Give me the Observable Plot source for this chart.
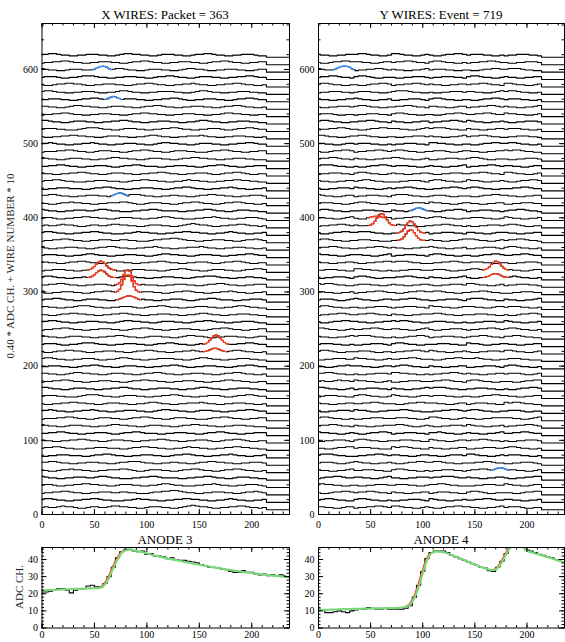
<!DOCTYPE html>
<html><head><meta charset="utf-8">
<script src="https://cdn.jsdelivr.net/npm/d3@7"></script>
<script src="https://cdn.jsdelivr.net/npm/@observablehq/plot@0.6"></script>
<style>
body{margin:0;background:#fff;overflow:hidden}
#root{position:relative;width:565px;height:642px;overflow:hidden;font-family:"Liberation Serif",serif;color:#000}
.t{position:absolute;font-size:13px;line-height:1;white-space:nowrap;transform:translateX(-50%)}
.yl{position:absolute;font-size:11px;line-height:1;white-space:nowrap;transform:translate(-50%,-50%) rotate(-90deg);color:#222}
.p{position:absolute}
</style></head><body><div id="root"></div>
<script>
// ---------- text ----------
const titleX = "X WIRES: Packet = 363";
const titleY = "Y WIRES: Event = 719";
const titleA3 = "ANODE 3";
const titleA4 = "ANODE 4";
const wireAxisLabel = "0.40 * ADC CH. + WIRE NUMBER * 10";
const anodeAxisLabel = "ADC CH.";

// ---------- ticks ----------
const xTicks = [0, 50, 100, 150, 200];
const wireYTicks = [0, 100, 200, 300, 400, 500, 600];
const anodeYTicks = [0, 10, 20, 30, 40];

// ---------- wire plot constants ----------
const PEDESTAL = 16;        // ADC
const ADC_SCALE = 0.40;
const WIRE_SPACING = 10;
const SAMPLE_STEP = 4;
const HIT_STEP = 2;
const TRACE_END = 216;
const X_MAX = 236;
const ADC_PER_DIGIT = 2.5;

// noise per wire, one digit per sample (ADC above pedestal = digit * ADC_PER_DIGIT)
const xWireNoise = [
"343345443 223443345 544332234 443322345 654432233 445543323",
"455433223 344554332 223345443 322334455 443322334 543322334",
"233445543 322334443 344332223 445566543 322334443 322344543",
"344322334 455443322 344433223 345543322 233445433 223344432",
"543322334 443345543 322233445 543333223 344554332 234443322",
"332234454 433223344 455432234 443322344 554332234 455433223",
"445543322 334443322 344555433 223344332 234455443 322334443",
"223344433 322344554 332233444 332234455 433223344 543322334",
"344554332 223344433 322344554 433223345 443322334 455443322",
"433223344 554332234 443322334 455433223 344432234 455432233",
"334455433 223344432 234455433 322334443 322344554 332233444",
"543322344 433223345 544332234 443322344 554433223 344433222",
"233344554 332234443 322344554 332234443 322234455 433223344",
"445433223 344543322 334443322 345544332 234443322 334455433",
"322334455 443322344 433223345 543322334 445433223 344433223",
"344433222 345554332 234443322 334455433 223344432 234455433",
"554332234 443322334 455433223 344433223 345543322 334443322",
"233445543 322334443 322344554 433223344 433223345 544332233",
"443322345 544332234 443322344 554332233 444332234 455433223",
"334443322 344554332 234443322 334455432 233444332 234455433",
"455433223 344432233 455433223 344443322 345543322 334443322",
"322344554 432233444 332234455 433223344 543322334 455433223",
"344432233 455543322 334443322 344554332 234443322 334455433",
"543322344 433223344 554332234 443322345 544322334 443322344",
"233445543 322334443 322344554 332233444 332234455 433223344",
"445543322 334443322 345544332 234443322 344554332 233444322",
"332234455 443322334 455433223 344433223 345543322 334443322",
"443322334 555433223 344432234 455433223 344433223 345543322",
"344554332 234443322 334455433 223344432 234455433 322334443",
"522334443 322344554 332233444 332234455 433223344 543322334",
"334455433 223344432 234455433 322334443 322344554 332233444",
"455433223 344433223 345543322 334443322 344555433 223344332",
"233444332 234455433 223344433 322344554 332234443 322344554",
"443322344 554332234 443322334 455433223 344432234 455432233",
"344433223 345543322 334443322 345544332 234443322 334455433",
"532233444 332234455 433223344 543322334 445433223 344433223",
"233445543 322334443 344332223 445566543 322334443 322344543",
"455433223 344554332 223345443 322334455 443322334 543322334",
"343345443 223443345 544332234 443322345 654432233 445543323",
"344322334 455443322 344433223 345543322 233445433 223344432",
"543322334 443345543 322233445 543333223 344554332 234443322",
"332234454 433223344 455432234 443322344 554332234 455433223",
"445543322 334443322 344555433 223344332 234455443 322334443",
"223344433 322344554 332233444 332234455 433223344 543322334",
"344554332 223344433 322344554 433223345 443322334 455443322",
"433223344 554332234 443322334 455433223 344432234 455432233",
"334455433 223344432 234455433 322334443 322344554 332233444",
"543322344 433223345 544332234 443322344 554433223 344433222",
"233344554 332234443 322344554 332234443 322234455 433223344",
"445433223 344543322 334443322 345544332 234443322 334455433",
"322334455 443322344 433223345 543322334 445433223 344433223",
"344433222 345554332 234443322 334455433 223344432 234455433",
"554332234 443322334 455433223 344433223 345543322 334443322",
"233445543 322334443 322344554 433223344 433223345 544332233",
"443322345 544332234 443322344 554332233 444332234 455433223",
"334443322 344554332 234443322 334455432 233444332 234455433",
"455433223 344432233 455433223 344443322 345543322 334443322",
"322344554 432233444 332234455 433223344 543322334 455433223",
"344432233 455543322 334443322 344554332 234443322 334455433",
"543322344 433223344 554332234 443322345 544322334 443322344",
"233445543 322334443 322344554 332233444 332234455 433223344",
"445543322 334443322 345544332 234443322 344554332 233444322"
];

const yWireNoise = [
"443322344 233445543 554332234 322344554 433223345 344432233",
"345543322 455433223 223344432 543322334 334455433 443322334",
"322344554 344554332 433223344 234443322 455432233 332234455",
"554433223 322334443 344433223 445543322 223344433 543322344",
"234455433 443322345 332233444 344555433 433223344 322334455",
"433223345 334443322 455433223 233444332 344554332 544332234",
"344432234 543322334 322344554 455433223 334455433 223344432",
"455543322 233445543 443322344 332234443 554332234 344433223",
"332234455 344433222 545543322 433223344 223344433 455433223",
"223344432 455433223 334443322 543322344 344554332 322334443",
"544332234 322344554 233444332 445433223 433223345 334455433",
"344554332 433223344 455432234 322334443 543322334 233445543",
"455433223 223344433 344433223 554332234 332233444 443322345",
"322334443 544322334 445543322 233445543 455433223 344432233",
"433223344 334455433 322344554 443322344 234443322 545543322",
"234443322 455433223 543322344 344433223 322344554 433223344",
"554332234 233444332 433223345 455543322 334443322 322344554",
"343345443 544332234 223344433 344554332 455433223 332234455",
"445543322 322334443 554433223 233445543 433223344 344432234",
"332234454 443322344 345543322 433223344 223344432 455433223",
"223344433 544332234 334455433 322344554 445433223 344433222",
"455432233 344432233 233445543 543322334 322334443 554332234",
"344433223 223344432 455433223 334443322 544322334 433223344",
"433223345 455543322 322344554 233444332 344554332 445543322",
"554332234 334455433 443322345 322334443 233445543 455433223",
"322344554 433223344 545543322 344433223 223344433 543322334",
"233445543 344554332 433223344 455433223 334443322 322344554",
"455433223 322334443 233444332 544332234 443322344 344433223",
"344432234 543322344 334455433 223344432 455543322 433223345",
"443322334 233445543 322344554 455433223 344554332 223344433",
"545543322 344433223 433223344 322334443 554332234 233444332",
"223344432 455432233 344554332 433223345 322344554 445433223",
"334443322 554433223 223344433 344432233 455433223 543322344",
"433223344 322334455 455543322 233445543 344433223 322334443",
"544332234 443322345 233444332 455433223 322344554 334455433",
"344554332 233445543 433223344 543322334 223344432 455433223",
"455433223 344433222 322334443 433223345 554332234 344554332",
"322344554 455543322 344432234 233444332 443322344 433223344",
"233445543 433223344 554433223 344554332 322334443 455432233",
"443322345 322344554 233445543 455433223 344433223 543322334",
"455433223 334443322 433223345 322344554 233444332 344554332",
"344433223 455433223 322334443 544332234 433223344 223344433",
"543322344 233444332 455543322 344432233 322344554 433223344",
"322334443 544332234 344554332 233445543 455433223 334455433",
"433223344 345543322 223344432 455433223 544322334 322344554",
"233444332 455433223 433223344 322334443 344554332 554332234",
"455543322 322344554 344433223 433223345 233445543 443322344",
"344554332 433223344 554332234 223344433 455432233 322334443",
"322344554 233445543 455433223 344432234 433223344 545543322",
"443322344 344433223 233444332 554433223 322344554 455433223",
"554332234 455433223 322334443 433223345 344554332 233444332",
"233445543 322344554 443322345 455543322 433223344 344433223",
"455433223 344554332 433223344 233445543 543322334 322334443",
"344432233 233444332 455433223 322344554 334455433 544332234",
"322334443 455433223 344554332 443322344 233445543 433223345",
"433223344 543322334 223344432 455433223 322344554 344433223",
"233444332 344433223 455543322 322334443 443322345 455433223",
"455433223 322344554 233445543 433223344 344554332 554332234",
"344554332 455432233 322334443 233444332 455433223 433223344",
"543322344 233445543 433223345 344433223 322344554 455543322",
"322344554 443322344 344554332 455433223 233445543 322334443",
"433223344 455433223 554332234 322344554 344433223 233444332"
];

// hits: ADC above pedestal sampled every HIT_STEP from x0
const xWireHits = [
  {wire: 59, x0: 48,  color: "blue", adc: [8, 10, 13, 16, 19, 20, 19, 16, 12, 9]},
  {wire: 55, x0: 60,  color: "blue", adc: [8, 10, 13, 16, 18, 17, 14, 11, 8]},
  {wire: 42, x0: 66,  color: "blue", adc: [8, 10, 13, 16, 18, 17, 14, 11, 8]},
  {wire: 32, x0: 44,  color: "red",  adc: [8, 10, 14, 20, 28, 35, 38, 36, 30, 22, 15, 11, 9, 8]},
  {wire: 31, x0: 44,  color: "red",  adc: [8, 9, 12, 17, 24, 30, 33, 31, 26, 19, 13, 10, 8, 8]},
  {wire: 30, x0: 70,  color: "red",  adc: [8, 10, 15, 27, 43, 56, 58, 53, 37, 21, 12, 9, 8]},
  {wire: 29, x0: 70,  color: "red",  adc: [8, 11, 18, 33, 51, 63, 66, 61, 45, 27, 15, 10, 8]},
  {wire: 28, x0: 72,  color: "red",  adc: [8, 10, 13, 16, 19, 21, 21, 19, 16, 13, 10, 8]},
  {wire: 22, x0: 154, color: "red",  adc: [8, 10, 14, 21, 29, 36, 39, 36, 29, 21, 14, 10, 8]},
  {wire: 21, x0: 154, color: "red",  adc: [8, 9, 11, 14, 17, 19, 19, 17, 14, 11, 9, 8]}
];
const yWireHits = [
  {wire: 59, x0: 14,  color: "blue", adc: [8, 10, 13, 16, 19, 20, 20, 19, 16, 12, 9]},
  {wire: 40, x0: 88,  color: "blue", adc: [8, 10, 13, 16, 18, 17, 14, 11, 8]},
  {wire: 39, x0: 48,  color: "red",  adc: [9, 11, 13, 14, 14, 13, 12, 10, 9]},
  {wire: 38, x0: 48,  color: "red",  adc: [8, 10, 14, 22, 33, 43, 48, 46, 38, 27, 17, 11, 9, 8]},
  {wire: 37, x0: 76,  color: "red",  adc: [8, 10, 14, 22, 33, 43, 48, 46, 38, 27, 17, 11, 9, 8]},
  {wire: 36, x0: 76,  color: "red",  adc: [8, 10, 13, 20, 30, 39, 44, 42, 34, 24, 15, 10, 8, 8]},
  {wire: 32, x0: 158, color: "red",  adc: [8, 10, 13, 19, 27, 34, 38, 36, 29, 21, 14, 10, 8]},
  {wire: 31, x0: 158, color: "red",  adc: [8, 9, 11, 14, 18, 20, 21, 20, 17, 13, 10, 9, 8]},
  {wire: 5,  x0: 166, color: "blue", adc: [8, 10, 13, 15, 17, 16, 14, 11, 8]}
];

// ---------- anode data (x = 0,4,8,...) ----------
const anodeStep = 4;
const anode3Fit = [22.0,22.1,22.2,22.3,22.4,22.5,22.6,22.7,22.8,22.9,23.0,23.1,23.2,23.3,23.6,25.5,29.5,35.0,40.0,43.8,45.4,45.6,45.3,44.8,44.2,43.5,42.9,42.3,41.7,41.1,40.6,40.1,39.6,39.1,38.6,38.1,37.6,37.2,36.7,36.3,35.8,35.4,35.0,34.6,34.2,33.8,33.4,33.1,32.7,32.4,32.1,31.8,31.5,31.2,30.9,30.6,30.4,30.1,29.9,29.7];
const anode3Trace = [21,21,21.5,22,23,23,22,20.5,22,22.5,23,24.5,25,24,24,26,30,35.5,41,44.5,46,46,45,44.5,45,43,43.5,42,42,41.5,40.5,41,40,39.5,39.5,39,38.5,38,37,36.5,35.5,35.5,35,34.5,34,33,32.5,32.5,33.5,32.5,32.5,31.5,31,31.5,30.5,31,30.5,31,30.5];
const anode4Fit = [10.4,10.5,10.6,10.7,10.8,10.9,11.0,11.0,11.1,11.2,11.2,11.3,11.3,11.4,11.4,11.5,11.5,11.6,11.6,11.7,11.9,12.4,13.8,17.5,24.0,32.0,39.5,43.5,44.6,44.6,44.2,43.5,42.6,41.6,40.6,39.6,38.6,37.6,36.6,35.6,34.7,34.0,33.8,35.0,38.5,43.0,46.8,48.5,48.8,47.5,45.0,44.2,43.5,42.8,42.1,41.4,40.6,39.8,39.0,38.2];
const anode4Trace = [11,10.5,9,9,9.5,10,9.5,9,10,10.5,11,11,12,11.5,11,11,11.5,11,11,11,11,11.5,13,18,25,33,40.5,44,45,45,45,44,42.5,41.5,40.5,39.5,38.5,37.5,36.5,35.5,35,33.5,33,35.5,39,43.5,47.5,49,49,48,45.5,45,44,43,42.5,41.5,41,40,39.5];
const anode3RedRanges = [[56, 80]];
const anode4RedRanges = [[84, 108], [168, 188]];

// ---------- build ----------
const RED = "#ff3d1f", BLUE = "#3d8ff0", GREEN = "#7ad87a";

function buildWires(noise, hits) {
  const rows = [], hitRows = [];
  noise.forEach((s, w) => {
    const digits = s.replace(/\s/g, "");
    const wh = hits.filter(h => h.wire === w);
    const inHit = x => wh.some(h => x >= h.x0 && x <= h.x0 + (h.adc.length - 1) * HIT_STEP);
    const pts = [];
    for (let i = 0; i < digits.length; i++) {
      const x = i * SAMPLE_STEP;
      if (x >= TRACE_END) break;
      if (!inHit(x)) pts.push({x, adc: +digits[i] * ADC_PER_DIGIT});
    }
    wh.forEach((h, k) => h.adc.forEach((a, j) => {
      pts.push({x: h.x0 + j * HIT_STEP, adc: a});
      hitRows.push({key: w + "-" + k, color: h.color, x: h.x0 + j * HIT_STEP,
                    y: ADC_SCALE * (PEDESTAL + a) + WIRE_SPACING * w});
    }));
    pts.sort((a, b) => a.x - b.x);
    pts.push({x: TRACE_END, adc: 0}, {x: X_MAX, adc: 0});
    pts.forEach(p => rows.push({wire: w, x: p.x, y: ADC_SCALE * (PEDESTAL + p.adc) + WIRE_SPACING * w}));
  });
  return {rows, hitRows};
}

function tickMarks(xMaj, xMin, yMaj, yMin, iw, ih) {
  const M = 5, m = 2.5;
  return [
    Plot.tickX(xMaj, {x: d => d, insetTop: ih - M, stroke: "black"}),
    Plot.tickX(xMaj, {x: d => d, insetBottom: ih - M, stroke: "black"}),
    Plot.tickX(xMin, {x: d => d, insetTop: ih - m, stroke: "black"}),
    Plot.tickX(xMin, {x: d => d, insetBottom: ih - m, stroke: "black"}),
    Plot.tickY(yMaj, {y: d => d, insetRight: iw - M, stroke: "black"}),
    Plot.tickY(yMaj, {y: d => d, insetLeft: iw - M, stroke: "black"}),
    Plot.tickY(yMin, {y: d => d, insetRight: iw - m, stroke: "black"}),
    Plot.tickY(yMin, {y: d => d, insetLeft: iw - m, stroke: "black"})
  ];
}

const root = document.getElementById("root");
function put(node, left, top) { node.classList.add("p"); node.style.left = left + "px"; node.style.top = top + "px"; root.appendChild(node); }
function text(cls, str, left, top) { const d = document.createElement("div"); d.className = cls; d.textContent = str; d.style.left = left + "px"; d.style.top = top + "px"; root.appendChild(d); }

const style = {fontFamily: "'Liberation Serif', serif", fontSize: "10px", background: "transparent", overflow: "visible", color: "black"};
const xMinor = d3.range(0, X_MAX + 1, 10);

function wirePlot(noise, hits, ml, mr, W) {
  const H = 535, mt = 23, mb = 21;
  const {rows, hitRows} = buildWires(noise, hits);
  const yMinor = d3.range(0, 661, 20);
  return Plot.plot({
    width: W, height: H, marginLeft: ml, marginRight: mr, marginTop: mt, marginBottom: mb,
    x: {domain: [0, X_MAX], axis: null}, y: {domain: [0, 662], axis: null},
    style,
    marks: [
      Plot.line(rows, {x: "x", y: "y", z: "wire", curve: "step", stroke: "black", strokeWidth: 1.1}),
      Plot.line(hitRows.filter(d => d.color === "red"), {x: "x", y: "y", z: "key", curve: "step", stroke: RED, strokeWidth: 1.3}),
      Plot.line(hitRows.filter(d => d.color === "blue"), {x: "x", y: "y", z: "key", curve: "step", stroke: BLUE, strokeWidth: 1.3}),
      Plot.frame({stroke: "black"}),
      ...tickMarks(xTicks, xMinor, wireYTicks, yMinor, W - ml - mr, H - mt - mb),
      Plot.axisX(xTicks, {anchor: "bottom", tickSize: 0, tickPadding: 6.5, label: null}),
      Plot.axisY(wireYTicks, {anchor: "left", tickSize: 0, tickPadding: 4, label: null})
    ]
  });
}

function anodePlot(fit, trace, redRanges, ml, mr, W) {
  const H = 114, mt = 12, mb = 21.5;
  const fitRows = fit.map((v, i) => ({x: i * anodeStep, y: v}));
  const traceRows = trace.map((v, i) => ({x: i * anodeStep, y: v}));
  const redRows = [];
  redRanges.forEach((r, k) => fitRows.forEach(d => { if (d.x >= r[0] && d.x <= r[1]) redRows.push({...d, k}); }));
  const yMinor = d3.range(0, 47, 2);
  return Plot.plot({
    width: W, height: H, marginLeft: ml, marginRight: mr, marginTop: mt, marginBottom: mb,
    x: {domain: [0, X_MAX], axis: null}, y: {domain: [0, 47], axis: null},
    style,
    marks: [
      Plot.line(traceRows, {x: "x", y: "y", curve: "step", stroke: "black", strokeWidth: 1.1, clip: true}),
      Plot.line(redRows, {x: "x", y: "y", z: "k", curve: "monotone-x", stroke: RED, strokeWidth: 1.6, dx: -1.2, clip: true}),
      Plot.line(fitRows, {x: "x", y: "y", curve: "monotone-x", stroke: GREEN, strokeWidth: 2.2, clip: true}),
      Plot.frame({stroke: "black"}),
      ...tickMarks(xTicks, xMinor, anodeYTicks, yMinor, W - ml - mr, H - mt - mb),
      Plot.axisX(xTicks, {anchor: "bottom", tickSize: 0, tickPadding: 3, label: null}),
      Plot.axisY(anodeYTicks, {anchor: "left", tickSize: 0, tickPadding: 4, label: null})
    ]
  });
}

put(wirePlot(xWireNoise, xWireHits, 41.5, 1, 290), 0, 0);
put(wirePlot(yWireNoise, yWireHits, 38, 1, 285), 280, 0);
put(anodePlot(anode3Fit, anode3Trace, anode3RedRanges, 41.5, 1, 290), 0, 535);
put(anodePlot(anode4Fit, anode4Trace, anode4RedRanges, 38, 1, 285), 280, 535);

text("t", titleX, 165, 8);
text("t", titleY, 441, 8);
text("t", titleA3, 165, 533);
text("t", titleA4, 441, 533);
text("yl", wireAxisLabel, 10, 266);
text("yl", anodeAxisLabel, 19, 587);
</script>
</body></html>
